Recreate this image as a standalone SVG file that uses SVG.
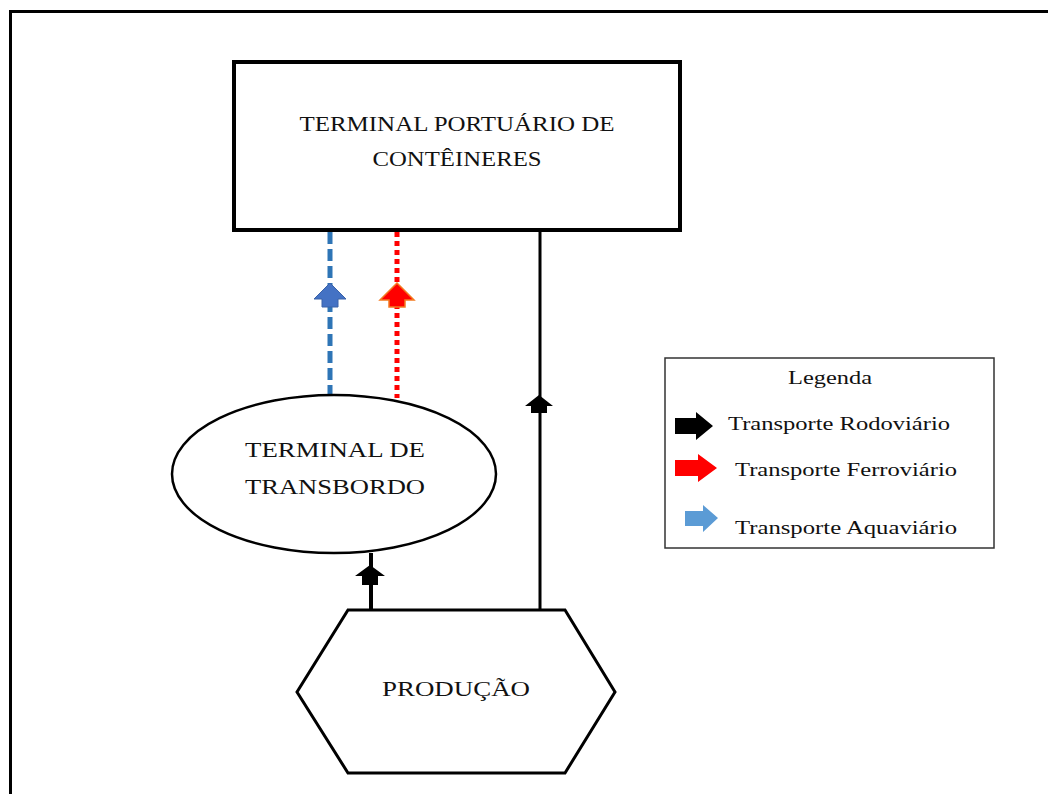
<svg xmlns="http://www.w3.org/2000/svg" width="1048" height="794" viewBox="0 0 1048 794">
<style>
.t{font-family:"Liberation Serif","Times New Roman",serif;fill:#111;}
.big{font-size:21px;}
.leg{font-size:19px;}
.shape{fill:#fff;stroke:#000;}
</style>
<rect width="1048" height="794" fill="#fff"/>
<path d="M10.5,800 V11.5 H1060" fill="none" stroke="#000" stroke-width="3"/>

<g id="connectors">
<line x1="330" y1="232" x2="330" y2="395" stroke="#2E75B6" stroke-width="5" stroke-dasharray="12,5"/>
<line x1="397" y1="232" x2="397" y2="398" stroke="#FF0000" stroke-width="5" stroke-dasharray="5,4"/>
<line x1="540" y1="232" x2="540" y2="610" stroke="#000" stroke-width="3"/>
<line x1="371" y1="553" x2="371" y2="610" stroke="#000" stroke-width="4"/>
<polygon points="330,283 346,299 338,299 338,307 322,307 322,299 314,299" fill="#4472C4" stroke="#3A62A8" stroke-width="1"/>
<polygon points="397,283 414,300 405,300 405,307 389,307 389,300 380,300" fill="#FF0000" stroke="#F47B20" stroke-width="1.5"/>
<polygon points="539,395 553,406 547,406 547,413 531,413 531,406 525,406" fill="#000"/>
<polygon points="370,565 385,576 378,576 378,585 362,585 362,576 355,576" fill="#000"/>
</g>

<g id="terminal-portuario">
<rect x="234" y="62" width="446" height="168" class="shape" stroke-width="4"/>
<text class="t big" x="457" y="131" text-anchor="middle" textLength="315" lengthAdjust="spacingAndGlyphs">TERMINAL PORTUÁRIO DE</text>
<text class="t big" x="457" y="166" text-anchor="middle" textLength="169" lengthAdjust="spacingAndGlyphs">CONTÊINERES</text>
</g>

<g id="terminal-transbordo">
<ellipse cx="334" cy="474" rx="162" ry="79" class="shape" stroke-width="2.5"/>
<text class="t big" x="335" y="457" text-anchor="middle" textLength="180" lengthAdjust="spacingAndGlyphs">TERMINAL DE</text>
<text class="t big" x="335" y="494" text-anchor="middle" textLength="180" lengthAdjust="spacingAndGlyphs">TRANSBORDO</text>
</g>

<g id="producao">
<polygon points="348,610 565,610 615,692 565,773 348,773 297,692" class="shape" stroke-width="3"/>
<text class="t big" x="456" y="696" text-anchor="middle" textLength="148" lengthAdjust="spacingAndGlyphs">PRODUÇÃO</text>
</g>

<g id="legenda">
<rect x="665" y="358" width="329" height="190" fill="#fff" stroke="#333" stroke-width="1.5"/>
<text class="t leg" x="830" y="384" text-anchor="middle" textLength="84" lengthAdjust="spacingAndGlyphs">Legenda</text>
<polygon points="675,418 696,418 696,412 713,426 696,440 696,434 675,434" fill="#000"/>
<text class="t leg" x="728" y="430" textLength="222" lengthAdjust="spacingAndGlyphs">Transporte Rodoviário</text>
<polygon points="675,460 698,460 698,454 717,468 698,482 698,476 675,476" fill="#FF0000"/>
<text class="t leg" x="735" y="476" textLength="222" lengthAdjust="spacingAndGlyphs">Transporte Ferroviário</text>
<polygon points="685,511 703,511 703,505 718,518 703,532 703,526 685,526" fill="#5B9BD5"/>
<text class="t leg" x="735" y="534" textLength="222" lengthAdjust="spacingAndGlyphs">Transporte Aquaviário</text>
</g>
</svg>
